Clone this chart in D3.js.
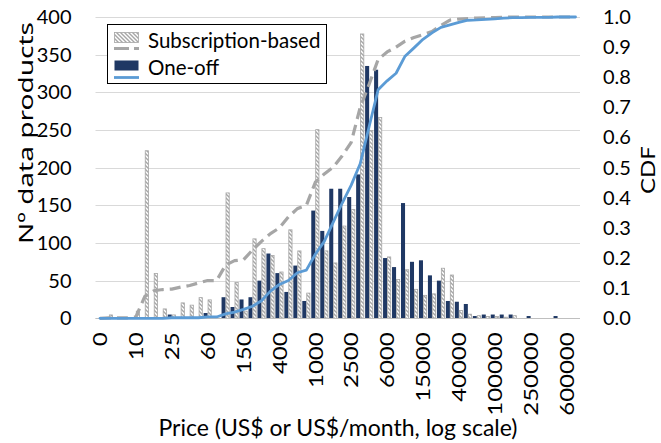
<!DOCTYPE html>
<html>
<head>
<meta charset="utf-8">
<script src="https://cdn.jsdelivr.net/npm/d3@7"></script>
<style>
  html, body { margin: 0; padding: 0; background: #fff; }
  svg { display: block; font-family: Lato, "Open Sans", sans-serif; }
</style>
</head>
<body>
<svg id="chart" width="661" height="443"></svg>
<script>
// Price bins on a log scale; only every fourth bin carries a label.
const binCount = 54;
const tickLabels = ["0", "10", "25", "60", "150", "400", "1000", "2500",
  "6000", "15000", "40000", "100000", "250000", "600000"];

// Number of data products per price bin.
const oneOff = [
  0, 0, 0, 0, 0, 0, 0, 0, 5, 0,
  0, 0, 7, 0, 28, 15, 25, 28, 50, 86,
  60, 35, 70, 23, 143, 116, 172, 172, 161, 191,
  335, 330, 80, 68, 153, 75, 77, 57, 50, 23,
  22, 19, 3, 5, 5, 5, 5, 0, 3, 0,
  0, 3, 0, 0
];
const subscription = [
  0, 5, 0, 0, 10, 223, 60, 13, 5, 21,
  18, 28, 25, 0, 167, 48, 10, 106, 93, 84,
  62, 118, 90, 34, 251, 90, 74, 123, 145, 378,
  250, 267, 82, 52, 65, 39, 31, 33, 67, 58,
  11, 6, 4, 3, 3, 2, 4, 0, 0, 0,
  0, 0, 0, 0
];

const countTicks = [0, 50, 100, 150, 200, 250, 300, 350, 400];
const cdfTicks = [0, 0.1, 0.2, 0.3, 0.4, 0.5, 0.6, 0.7, 0.8, 0.9, 1.0];

const colors = {
  oneOffBar: "#1F3864",
  hatch: "#A6A6A6",
  subBorder: "#A6A6A6",
  oneOffLine: "#5B9BD5",
  subLine: "#A6A6A6",
  grid: "#D9D9D9",
  text: "#000"
};

const svg = d3.select("#chart");
const plotLeft = 95.5, plotRight = 580, plotTop = 17, plotBottom = 318.3;
// Vertical text is drawn slightly elongated along its reading direction.
const tallText = 1.2;

// Cumulative share of each series, evaluated bin by bin.
function cdf(values) {
  const total = d3.sum(values);
  return Array.from(d3.cumsum(values), v => v / total);
}
const oneOffCdf = cdf(oneOff);
const subCdf = cdf(subscription);

const bins = d3.range(binCount);
const x = d3.scaleBand().domain(bins).range([plotLeft, plotRight])
  .paddingInner(0.1).paddingOuter(0.05);
const xSeries = d3.scaleBand().domain(["oneOff", "sub"])
  .range([0, x.bandwidth()]).padding(0);
const y = d3.scaleLinear().domain([0, 400]).range([plotBottom, plotTop]);
const yCdf = d3.scaleLinear().domain([0, 1]).range([plotBottom, plotTop]);

// Hatch used for the subscription bars.
const defs = svg.append("defs");
const pat = defs.append("pattern")
  .attr("id", "hatch").attr("patternUnits", "userSpaceOnUse")
  .attr("width", 4).attr("height", 4);
pat.append("rect").attr("width", 4).attr("height", 4).attr("fill", "#fff");
pat.append("path")
  .attr("d", "M0,0 L4,4 M-1,3 L1,5 M3,-1 L5,1")
  .attr("stroke", colors.hatch).attr("stroke-width", 1.4);

// Horizontal gridlines at the count ticks.
svg.append("g").selectAll("line").data(countTicks).join("line")
  .attr("x1", plotLeft).attr("x2", plotRight)
  .attr("y1", d => Math.round(y(d)) + 0.5).attr("y2", d => Math.round(y(d)) + 0.5)
  .attr("stroke", colors.grid).attr("stroke-width", 1);

// Left axis (counts).
const yAxis = svg.append("g").attr("transform", `translate(${plotLeft},0)`)
  .call(d3.axisLeft(y).tickValues(countTicks).tickSize(0).tickPadding(24));
yAxis.select(".domain").remove();
yAxis.selectAll("text").attr("font-size", 20).attr("fill", colors.text)
  .attr("font-family", "Lato, sans-serif");

// Right axis (CDF).
const yAxisR = svg.append("g").attr("transform", `translate(${plotRight},0)`)
  .call(d3.axisRight(yCdf).tickValues(cdfTicks).tickSize(0).tickPadding(23)
    .tickFormat(d3.format(".1f")));
yAxisR.select(".domain").remove();
yAxisR.selectAll("text").attr("font-size", 20).attr("fill", colors.text)
  .attr("font-family", "Lato, sans-serif");

// Bars.
const barG = svg.append("g");
barG.selectAll("rect.oneoff").data(bins.filter(i => oneOff[i] > 0)).join("rect")
  .attr("class", "oneoff")
  .attr("x", i => x(i) + xSeries("oneOff"))
  .attr("width", xSeries.bandwidth())
  .attr("y", i => y(oneOff[i]))
  .attr("height", i => y(0) - y(oneOff[i]))
  .attr("fill", colors.oneOffBar);
barG.selectAll("rect.sub").data(bins.filter(i => subscription[i] > 0)).join("rect")
  .attr("class", "sub")
  .attr("x", i => x(i) + xSeries("sub") + 0.4)
  .attr("width", xSeries.bandwidth() - 0.8)
  .attr("y", i => y(subscription[i]) + 0.4)
  .attr("height", i => Math.max(0, y(0) - y(subscription[i]) - 0.4))
  .attr("fill", "url(#hatch)")
  .attr("stroke", colors.subBorder).attr("stroke-width", 0.8);

// Baseline.
svg.append("line").attr("x1", plotLeft).attr("x2", plotRight)
  .attr("y1", Math.round(y(0)) + 0.5).attr("y2", Math.round(y(0)) + 0.5)
  .attr("stroke", "#BFBFBF").attr("stroke-width", 1);

// CDF lines.
const lineGen = d3.line()
  .x((d, i) => x(i) + x.bandwidth() / 2)
  .y(d => yCdf(d));
svg.append("path").datum(subCdf)
  .attr("d", lineGen).attr("fill", "none")
  .attr("stroke", colors.subLine).attr("stroke-width", 3.2)
  .attr("stroke-dasharray", "11,6").attr("stroke-linejoin", "round");
svg.append("path").datum(oneOffCdf)
  .attr("d", lineGen).attr("fill", "none")
  .attr("stroke", colors.oneOffLine).attr("stroke-width", 2.8)
  .attr("stroke-linejoin", "round").attr("stroke-linecap", "round");

// Bottom axis: every fourth bin labelled, text rotated.
const xAxis = svg.append("g").attr("transform", `translate(0,${plotBottom})`)
  .call(d3.axisBottom(x)
    .tickValues(bins.filter(i => i % 4 === 0))
    .tickFormat(i => tickLabels[i / 4])
    .tickSize(0));
xAxis.select(".domain").remove();
xAxis.selectAll("text")
  .attr("font-size", 20).attr("fill", colors.text)
  .attr("font-family", "Lato, sans-serif")
  .attr("text-anchor", "end")
  .attr("x", 0).attr("y", 0).attr("dy", "0.36em")
  .attr("transform", `translate(0,14) rotate(-90) scale(${tallText},1)`);

// Axis titles.
svg.append("text").attr("x", 338).attr("y", 436)
  .attr("text-anchor", "middle").attr("font-size", 23)
  .attr("fill", colors.text).text("Price (US$ or US$/month, log scale)");
svg.append("text")
  .attr("transform", "translate(26,133) rotate(-90)")
  .attr("text-anchor", "middle").attr("dy", "0.35em").attr("font-size", 20.5)
  .attr("font-family", "'Noto Sans', Lato, sans-serif")
  .attr("textLength", 222).attr("lengthAdjust", "spacingAndGlyphs")
  .attr("fill", colors.text).text("Nº data products");
svg.append("text")
  .attr("transform", `translate(648,170) rotate(-90) scale(${tallText},1)`)
  .attr("text-anchor", "middle").attr("dy", "0.35em").attr("font-size", 20)
  .attr("fill", colors.text).text("CDF");

// Legend.
const lg = svg.append("g");
lg.append("rect").attr("x", 107.5).attr("y", 24.5).attr("width", 219).attr("height", 59)
  .attr("fill", "#fff").attr("stroke", "#000").attr("stroke-width", 1);
lg.append("rect").attr("x", 114.5).attr("y", 32.5).attr("width", 24).attr("height", 10)
  .attr("fill", "url(#hatch)").attr("stroke", colors.subBorder).attr("stroke-width", 0.8);
lg.append("line").attr("x1", 114).attr("x2", 139).attr("y1", 48.5).attr("y2", 48.5)
  .attr("stroke", colors.subLine).attr("stroke-width", 3).attr("stroke-dasharray", "15,5");
lg.append("rect").attr("x", 114.5).attr("y", 60.5).attr("width", 24).attr("height", 10)
  .attr("fill", colors.oneOffBar);
lg.append("line").attr("x1", 114).attr("x2", 139).attr("y1", 77.5).attr("y2", 77.5)
  .attr("stroke", colors.oneOffLine).attr("stroke-width", 2.8);
lg.append("text").attr("x", 148).attr("y", 41).attr("dy", "0.35em")
  .attr("font-size", 20.5).attr("fill", colors.text).text("Subscription-based");
lg.append("text").attr("x", 148).attr("y", 68).attr("dy", "0.35em")
  .attr("font-size", 20.5).attr("fill", colors.text).text("One-off");
</script>
</body>
</html>
